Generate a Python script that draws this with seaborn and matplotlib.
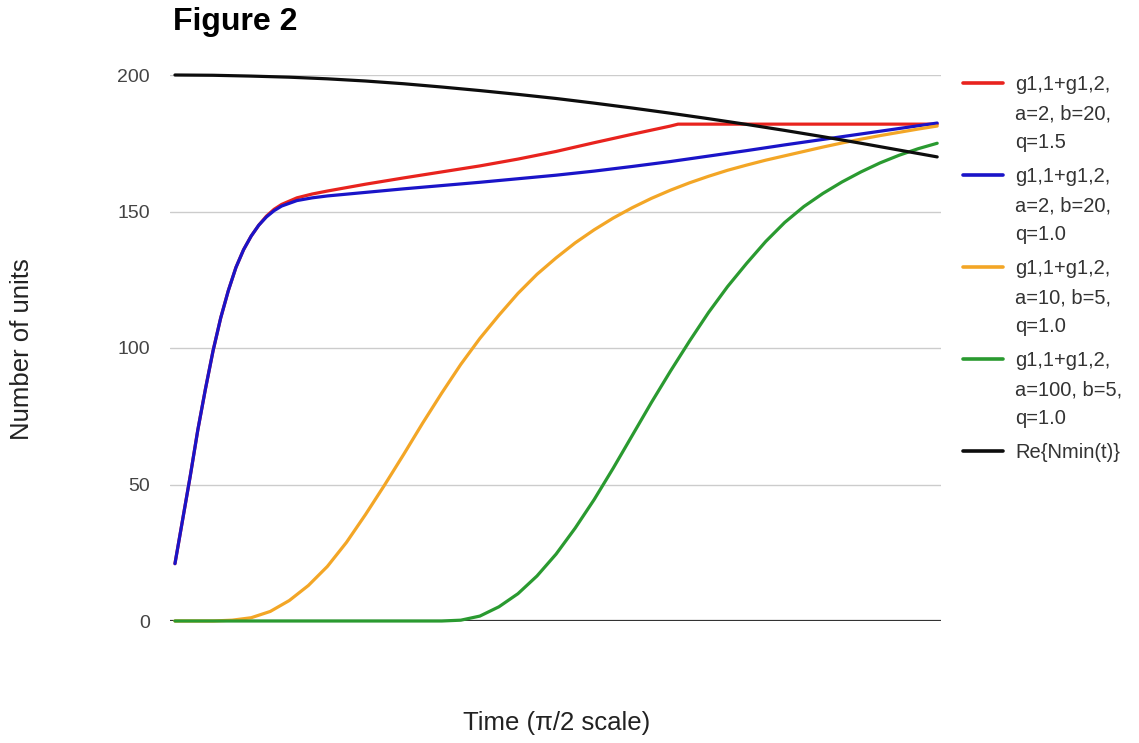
import numpy as np
import pandas as pd
import matplotlib
matplotlib.use("Agg")
import matplotlib.pyplot as plt
import seaborn as sns
from matplotlib.lines import Line2D

# ---- data (x is time on a 0-100 normalised scale) ----
x_fast = [0, 1, 2, 3, 4, 5, 6, 7, 8, 9, 10, 11, 12, 13, 14, 16, 18, 20, 25, 30, 35, 40,
          45, 50, 55, 60, 65, 70, 75, 80, 85, 90, 95, 100]
blue_vals = [21, 37, 53, 70, 85, 99, 111, 121, 129.5, 136, 141, 145, 148, 150.3, 152, 154, 155,
             155.7, 157, 158.3, 159.5, 160.7, 162, 163.3, 164.8, 166.5, 168.3, 170.3, 172.3,
             174.4, 176.4, 178.4, 180.4, 182.4]

x_red = [0, 1, 2, 3, 4, 5, 6, 7, 8, 9, 10, 11, 12, 13, 14, 16, 18, 20, 25, 30, 35, 40,
         45, 50, 55, 60, 65, 66, 70, 75, 80, 85, 90, 95, 100]
red_vals = [21, 37, 53, 70, 85, 99, 111, 121, 129.5, 136, 141, 145, 148.3, 150.8, 152.6, 155,
            156.4, 157.5, 160, 162.3, 164.5, 166.7, 169.2, 172, 175.2, 178.3, 181.3, 182, 182,
            182, 182, 182, 182, 182, 182]

x_orange = [0, 5, 7.5, 10, 12.5, 15, 17.5, 20, 22.5, 25, 27.5, 30, 32.5, 35, 37.5, 40, 42.5,
            45, 47.5, 50, 52.5, 55, 57.5, 60, 62.5, 65, 67.5, 70, 72.5, 75, 77.5, 80, 82.5,
            85, 87.5, 90, 92.5, 95, 97.5, 100]
orange_vals = [0, 0, 0.3, 1.2, 3.5, 7.5, 13, 20, 28.8, 39, 49.8, 61, 72.5, 83.5, 94, 103.5,
               112, 120, 127, 133, 138.5, 143.3, 147.6, 151.4, 154.8, 157.8, 160.5, 162.9,
               165.1, 167, 168.8, 170.4, 172, 173.6, 175.1, 176.5, 177.8, 179, 180.2, 181.3]

x_green = [0, 10, 20, 30, 35, 37.5, 40, 42.5, 45, 47.5, 50, 52.5, 55, 57.5, 60, 62.5, 65,
           67.5, 70, 72.5, 75, 77.5, 80, 82.5, 85, 87.5, 90, 92.5, 95, 97.5, 100]
green_vals = [0, 0, 0, 0, 0, 0.3, 1.8, 5.2, 10, 16.5, 24.5, 34, 44.5, 56, 68, 80, 91.5,
              102.5, 113, 122.5, 131, 139, 146, 151.8, 156.6, 160.8, 164.5, 167.8, 170.6,
              173, 175]

x_black = [0, 5, 10, 15, 20, 25, 30, 35, 40, 45, 50, 55, 60, 65, 70, 75, 80, 85, 90, 95, 100]
black_vals = [200, 199.9, 199.6, 199.2, 198.6, 197.8, 196.8, 195.6, 194.3, 192.9, 191.4,
              189.7, 187.9, 186, 184, 181.9, 179.7, 177.4, 175, 172.5, 170]

series_labels = [
    "g1,1+g1,2,\na=2, b=20,\nq=1.5",
    "g1,1+g1,2,\na=2, b=20,\nq=1.0",
    "g1,1+g1,2,\na=10, b=5,\nq=1.0",
    "g1,1+g1,2,\na=100, b=5,\nq=1.0",
    "Re{Nmin(t)}",
]
series_colors = ["#e8231e", "#1a14c8", "#f3a626", "#2a9a30", "#0d0d0d"]
y_ticks = [0, 50, 100, 150, 200]

frames = []
for lab, xs, ys in zip(series_labels,
                       [x_red, x_fast, x_orange, x_green, x_black],
                       [red_vals, blue_vals, orange_vals, green_vals, black_vals]):
    frames.append(pd.DataFrame({"t": xs, "units": ys, "series": lab}))
df = pd.concat(frames, ignore_index=True)

sns.set_theme(style="white")
plt.rcParams["font.family"] = ["Liberation Sans", "DejaVu Sans"]

W, H = 1139, 743
fig = plt.figure(figsize=(W / 100, H / 100), dpi=100)
ax = fig.add_axes([170 / W, 1 - 621 / H, (941 - 170) / W, (621 - 75) / H])

ax.grid(axis="y", color="#cccccc", linewidth=1.0, zorder=0)
ax.set_axisbelow(True)

sns.lineplot(data=df, x="t", y="units", hue="series", hue_order=series_labels,
             palette=dict(zip(series_labels, series_colors)), estimator=None,
             sort=True, linewidth=2.3, ax=ax, legend=False, zorder=3)
for ln in ax.lines:
    ln.set_clip_on(False)
    ln.set_solid_joinstyle("round")

ax.axhline(0, color="#333333", linewidth=1.6, zorder=2)

ax.set_xlim(-0.65, 100.5)
ax.set_ylim(0, 200)
ax.set_yticks(y_ticks)
ax.set_yticklabels([str(v) for v in y_ticks])
ax.set_xticks([])
ax.tick_params(axis="y", length=0, pad=14.5, labelsize=14, labelcolor="#444444")
for s in ax.spines.values():
    s.set_visible(False)

ax.set_xlabel("")
ax.set_ylabel("")
fig.text(557 / W, 1 - 723 / H, "Time (π/2 scale)", ha="center", va="center",
         fontsize=18.5, color="#222222")
fig.text(22 / W, 1 - 349 / H, "Number of units", ha="center", va="center",
         rotation=90, fontsize=18.5, color="#222222")
fig.text(173 / W, 1 - 22 / H, "Figure 2", ha="left", va="center",
         fontsize=23, fontweight="bold", color="#000000")

# legend (handle aligned with the first text line, as in the reference)
for i, (lab, c) in enumerate(zip(series_labels, series_colors)):
    yc = 83 + 92 * i
    fig.add_artist(Line2D([963 / W, 1003 / W], [1 - yc / H, 1 - yc / H],
                          transform=fig.transFigure, color=c, linewidth=2.6))
    for k, line in enumerate(lab.split("\n")):
        fig.text(1015 / W, 1 - (yc + 7 + 29 * k) / H, line, ha="left", va="baseline",
                 fontsize=14.5, color="#333333")

fig.savefig("out.png", dpi=100)
